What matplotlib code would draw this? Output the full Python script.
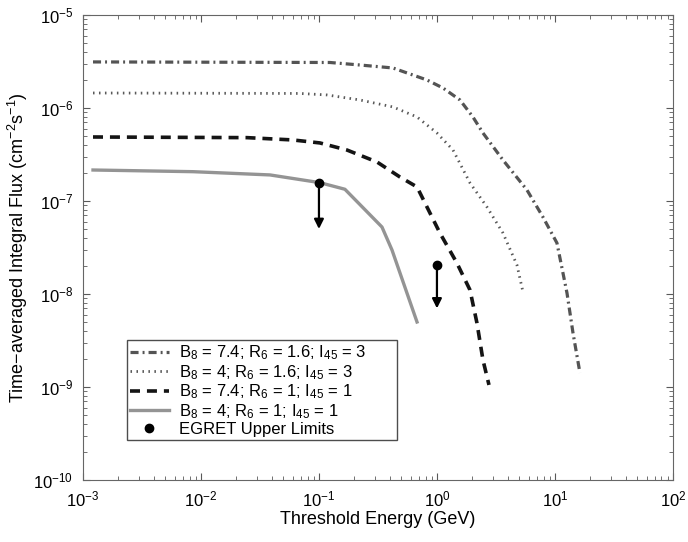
import numpy as np
import matplotlib
matplotlib.use("Agg")
import matplotlib.pyplot as plt

plt.rcParams['font.family'] = ['Liberation Sans', 'DejaVu Sans']
plt.rcParams['mathtext.fontset'] = 'custom'
plt.rcParams['mathtext.rm'] = 'Liberation Sans'
plt.rcParams['mathtext.it'] = 'Liberation Sans'
plt.rcParams['mathtext.default'] = 'regular'
plt.rcParams['lines.scale_dashes'] = False

# curves (log10 of energy in GeV, log10 of flux)
logE_a = [-2.915, -0.907, -0.653, -0.373, -0.085, 0.051, 0.195, 0.305, 0.390, 0.559, 0.763, 0.898, 1.017, 1.102, 1.153, 1.212]
logF_a = [-5.505, -5.511, -5.538, -5.570, -5.699, -5.785, -5.914, -6.097, -6.269, -6.559, -6.882, -7.172, -7.452, -7.989, -8.419, -8.849]

logE_b = [-2.915, -1.161, -0.932, -0.653, -0.373, -0.169, 0.0, 0.136, 0.280, 0.424, 0.559, 0.678, 0.729]
logF_b = [-5.839, -5.844, -5.860, -5.914, -5.989, -6.097, -6.269, -6.452, -6.806, -7.065, -7.344, -7.688, -7.978]

logE_c = [-2.915, -1.610, -1.220, -0.992, -0.763, -0.508, -0.314, -0.169, 0.025, 0.169, 0.280, 0.339, 0.390, 0.441]
logF_c = [-6.312, -6.319, -6.344, -6.376, -6.452, -6.581, -6.742, -6.849, -7.344, -7.667, -7.957, -8.312, -8.710, -8.978]

logE_d = [-2.915, -2.068, -1.415, -0.992, -0.780, -0.466, -0.381, -0.169]
logF_d = [-6.667, -6.685, -6.720, -6.803, -6.874, -7.280, -7.527, -8.301]

labels = [r'B$_8$ = 7.4; R$_6$ = 1.6; I$_{45}$ = 3',
          r'B$_8$ = 4; R$_6$ = 1.6; I$_{45}$ = 3',
          r'B$_8$ = 7.4; R$_6$ = 1; I$_{45}$ = 1',
          r'B$_8$ = 4; R$_6$ = 1; I$_{45}$ = 1']

# EGRET upper limits and where the arrows end
egret_E = [0.1, 1.0]
egret_F = [1.56e-7, 2.05e-8]
arrow_F = [5.0e-8, 7.0e-9]

fig = plt.figure(figsize=(6.88, 5.42), dpi=100)
ax = fig.add_axes([0.1206, 0.1144, 0.8575, 0.858])

ax.plot(10**np.array(logE_a), 10**np.array(logF_a), color='0.33', lw=2.3,
        dashes=(5.8, 2.9, 1.4, 2.9), label=labels[0])
ax.plot(10**np.array(logE_b), 10**np.array(logF_b), color='0.35', lw=2.0,
        dashes=(1.1, 3.2), label=labels[1])
ax.plot(10**np.array(logE_c), 10**np.array(logF_c), color='0.08', lw=2.6,
        dashes=(7.2, 5.0), label=labels[2])
ax.plot(10**np.array(logE_d), 10**np.array(logF_d), color='0.58', lw=2.4,
        label=labels[3])

for e, f, fa in zip(egret_E, egret_F, arrow_F):
    ax.annotate('', xy=(e, fa), xytext=(e, f),
                arrowprops=dict(arrowstyle='-|>', color='black', lw=1.6,
                                mutation_scale=14, shrinkA=0, shrinkB=0))
ax.plot(egret_E, egret_F, 'o', color='black', ms=6, linestyle='none',
        label='EGRET Upper Limits')

ax.set_xscale('log')
ax.set_yscale('log')
ax.set_xlim(1e-3, 1e2)
ax.set_ylim(1e-10, 1e-5)

ax.tick_params(which='both', direction='in', top=True, right=True, colors='0.35',
               labelcolor='black', labelsize=12)
ax.tick_params(which='major', length=5, pad=7)
ax.tick_params(which='minor', length=3)
for s in ax.spines.values():
    s.set_color('0.4')

ax.set_xlabel('Threshold Energy (GeV)', fontsize=13, labelpad=1)
ax.set_ylabel(r'Time$-$averaged Integral Flux (cm$^{-2}$s$^{-1}$)', fontsize=13, labelpad=2)

leg = ax.legend(loc='lower left', bbox_to_anchor=(0.0746, 0.086, 0.457, 0.286),
                mode='expand', fontsize=12, handlelength=2.3, handletextpad=0.6,
                borderpad=0.2, labelspacing=0.05, fancybox=False, framealpha=1,
                borderaxespad=0)
leg.get_frame().set_edgecolor('0.3')
leg.get_frame().set_linewidth(1.0)

fig.savefig('out.png', dpi=100)
